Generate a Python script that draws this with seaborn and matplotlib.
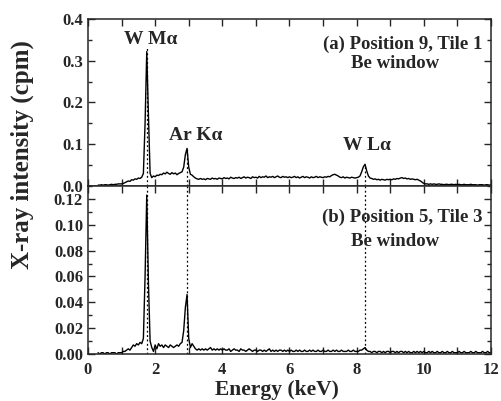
"""
X-ray spectra, two stacked panels sharing the energy axis.
"""
import numpy as np
import matplotlib
matplotlib.use("Agg")
import matplotlib.pyplot as plt
import seaborn as sns
from matplotlib.ticker import MultipleLocator, FormatStrFormatter

# energy channels 0.30 ... 12.00 keV, 0.05 keV wide
energy = np.round(0.30 + 0.05 * np.arange(235), 2)

# (a) Position 9, Tile 1 -- one row per keV
intensity_a = [
    0.002, 0.002, 0.003, 0.002, 0.003, 0.003, 0.002, 0.003, 0.004, 0.003, 0.004, 0.004, 0.005, 0.005,
    0.005, 0.006, 0.008, 0.010, 0.012, 0.011, 0.015, 0.014, 0.017, 0.016, 0.019, 0.018, 0.021, 0.030, 0.150, 0.322, 0.170, 0.030, 0.020, 0.024,
    0.022, 0.026, 0.025, 0.028, 0.027, 0.031, 0.029, 0.033, 0.030, 0.028, 0.032, 0.029, 0.031, 0.027, 0.030, 0.032, 0.034, 0.045, 0.075, 0.090,
    0.045, 0.028, 0.026, 0.022, 0.019, 0.017, 0.016, 0.018, 0.016, 0.017, 0.015, 0.018, 0.017, 0.016, 0.019, 0.017, 0.018, 0.016, 0.019, 0.018,
    0.017, 0.020, 0.018, 0.019, 0.017, 0.021, 0.019, 0.018, 0.020, 0.019, 0.021, 0.018, 0.020, 0.022, 0.019, 0.021, 0.020, 0.018, 0.022, 0.020,
    0.021, 0.019, 0.023, 0.020, 0.022, 0.021, 0.024, 0.020, 0.022, 0.021, 0.023, 0.020, 0.022, 0.024, 0.021, 0.020, 0.023, 0.021, 0.022, 0.020,
    0.022, 0.020, 0.021, 0.023, 0.020, 0.022, 0.019, 0.021, 0.023, 0.020, 0.022, 0.021, 0.019, 0.022, 0.020, 0.021, 0.023, 0.020, 0.022, 0.021,
    0.020, 0.022, 0.021, 0.023, 0.022, 0.025, 0.027, 0.028, 0.026, 0.024, 0.021, 0.020, 0.022, 0.019, 0.021, 0.020, 0.019, 0.021, 0.020, 0.019,
    0.020, 0.021, 0.024, 0.034, 0.046, 0.052, 0.036, 0.024, 0.019, 0.018, 0.016, 0.017, 0.015, 0.016, 0.014, 0.016, 0.015, 0.014, 0.016, 0.015,
    0.016, 0.015, 0.017, 0.016, 0.018, 0.017, 0.019, 0.020, 0.018, 0.019, 0.017, 0.018, 0.016, 0.017, 0.016, 0.015, 0.016, 0.014, 0.012, 0.009,
    0.006, 0.005, 0.005, 0.004, 0.005, 0.004, 0.005, 0.004, 0.004, 0.005, 0.004, 0.004, 0.003, 0.004, 0.004, 0.003, 0.004, 0.004, 0.003, 0.004,
    0.003, 0.004, 0.003, 0.003, 0.004, 0.003, 0.003, 0.003, 0.004, 0.003, 0.003, 0.003, 0.002, 0.003, 0.003, 0.003, 0.002, 0.003, 0.003, 0.002,
    0.003,
]

# (b) Position 5, Tile 3
intensity_b = [
    0.001, 0.000, 0.001, 0.001, 0.000, 0.001, 0.001, 0.000, 0.001, 0.001, 0.001, 0.000, 0.001, 0.001,
    0.001, 0.002, 0.002, 0.003, 0.004, 0.003, 0.005, 0.007, 0.006, 0.008, 0.007, 0.009, 0.008, 0.012, 0.060, 0.123, 0.055, 0.010, 0.005, 0.002,
    0.007, 0.004, 0.008, 0.006, 0.007, 0.005, 0.007, 0.006, 0.005, 0.007, 0.006, 0.005, 0.006, 0.007, 0.006, 0.008, 0.009, 0.018, 0.036, 0.046,
    0.012, 0.005, 0.008, 0.006, 0.004, 0.003, 0.004, 0.003, 0.004, 0.003, 0.004, 0.003, 0.004, 0.005, 0.003, 0.004, 0.003, 0.004, 0.003, 0.004,
    0.003, 0.004, 0.003, 0.003, 0.004, 0.002, 0.003, 0.004, 0.003, 0.003, 0.002, 0.004, 0.003, 0.003, 0.002, 0.003, 0.004, 0.003, 0.002, 0.003,
    0.003, 0.002, 0.003, 0.003, 0.002, 0.003, 0.002, 0.003, 0.004, 0.002, 0.003, 0.002, 0.003, 0.002, 0.003, 0.003, 0.002, 0.003, 0.002, 0.003,
    0.002, 0.003, 0.002, 0.002, 0.003, 0.002, 0.003, 0.002, 0.002, 0.003, 0.002, 0.002, 0.003, 0.002, 0.003, 0.002, 0.002, 0.003, 0.002, 0.002,
    0.003, 0.002, 0.002, 0.003, 0.002, 0.002, 0.003, 0.002, 0.003, 0.002, 0.002, 0.003, 0.002, 0.002, 0.002, 0.003, 0.002, 0.002, 0.003, 0.002,
    0.002, 0.002, 0.003, 0.003, 0.004, 0.005, 0.003, 0.002, 0.002, 0.001, 0.002, 0.002, 0.001, 0.002, 0.002, 0.001, 0.002, 0.001, 0.002, 0.002,
    0.001, 0.002, 0.002, 0.001, 0.002, 0.001, 0.002, 0.002, 0.001, 0.002, 0.001, 0.002, 0.001, 0.001, 0.002, 0.001, 0.002, 0.001, 0.002, 0.001,
    0.002, 0.001, 0.001, 0.002, 0.001, 0.002, 0.001, 0.001, 0.002, 0.001, 0.001, 0.002, 0.001, 0.001, 0.002, 0.001, 0.001, 0.002, 0.001, 0.001,
    0.001, 0.002, 0.001, 0.001, 0.002, 0.001, 0.001, 0.001, 0.002, 0.001, 0.001, 0.002, 0.001, 0.001, 0.001, 0.002, 0.001, 0.001, 0.002, 0.001,
    0.001,
]

# emission lines: label, energy (keV), top of the dotted marker in panel (a)
line_names = ["W M\u03b1", "Ar K\u03b1", "W L\u03b1"]
line_energy = [1.745, 2.94, 8.24]
line_top_a = [0.335, 0.09, 0.05]

sns.set_style("ticks")
plt.rcParams.update({
    "font.family": ["Liberation Serif", "DejaVu Serif"],
    "font.weight": "bold",
    "font.size": 12,
    "axes.linewidth": 1.1,
    "xtick.direction": "in",
    "ytick.direction": "in",
    "xtick.top": True,
    "ytick.right": True,
    "xtick.major.size": 5,
    "xtick.minor.size": 5,
    "ytick.major.size": 5,
    "ytick.minor.size": 3,
    "xtick.major.width": 1.0,
    "xtick.minor.width": 1.0,
    "ytick.major.width": 1.0,
    "ytick.minor.width": 1.0,
    "xtick.major.pad": 6,
})

fig = plt.figure(figsize=(5.01, 4.01), dpi=100)
ax_a = fig.add_axes([0.1756, 0.5362, 0.8044, 0.4164])
ax_b = fig.add_axes([0.1756, 0.1172, 0.8044, 0.4190])

sns.lineplot(x=energy, y=intensity_a, ax=ax_a, color="black", lw=1.0)
sns.lineplot(x=energy, y=intensity_b, ax=ax_b, color="black", lw=1.0)

# dotted markers at the line energies
ax_a.vlines(line_energy, 0, line_top_a, colors="black", linestyles=(0, (1.5, 2)), lw=0.9)
for e in line_energy:
    ax_b.axvline(e, color="black", ls=(0, (1.5, 2)), lw=0.9)

for ax in (ax_a, ax_b):
    ax.set_xlim(0, 12)
    ax.xaxis.set_major_locator(MultipleLocator(2))
    ax.xaxis.set_minor_locator(MultipleLocator(1))
    ax.tick_params(which="both", top=True, right=True)
    ax.set_xlabel("")
    ax.set_ylabel("")

ax_a.set_ylim(0, 0.4)
ax_a.yaxis.set_major_locator(MultipleLocator(0.1))
ax_a.yaxis.set_minor_locator(MultipleLocator(0.05))
ax_a.yaxis.set_major_formatter(FormatStrFormatter("%.1f"))
ax_a.tick_params(labelbottom=False)

ax_b.set_ylim(0, 0.13)
ax_b.yaxis.set_major_locator(MultipleLocator(0.02))
ax_b.yaxis.set_minor_locator(MultipleLocator(0.01))
ax_b.yaxis.set_major_formatter(FormatStrFormatter("%.2f"))

# line labels
ax_a.text(1.88, 0.35, line_names[0], ha="center", va="center", fontsize=14, fontweight="bold")
ax_a.text(3.22, 0.12, line_names[1], ha="center", va="center", fontsize=14, fontweight="bold")
ax_a.text(8.3, 0.098, line_names[2], ha="center", va="center", fontsize=14, fontweight="bold")

ax_a.text(11.75, 0.339, "(a) Position 9, Tile 1", ha="right", va="center", fontsize=13.5, fontweight="bold")
ax_a.text(9.14, 0.293, "Be window", ha="center", va="center", fontsize=13.5, fontweight="bold")
ax_b.text(11.75, 0.1058, "(b) Position 5, Tile 3", ha="right", va="center", fontsize=13.5, fontweight="bold")
ax_b.text(9.14, 0.087, "Be window", ha="center", va="center", fontsize=13.5, fontweight="bold")

fig.text(0.044, 0.615, "X-ray intensity (cpm)", rotation=90, ha="center", va="center",
         fontsize=18, fontweight="bold")
fig.text(0.552, 0.003, "Energy (keV)", ha="center", va="bottom", fontsize=15.5, fontweight="bold")

fig.savefig("out.png", dpi=100)
plt.close(fig)
